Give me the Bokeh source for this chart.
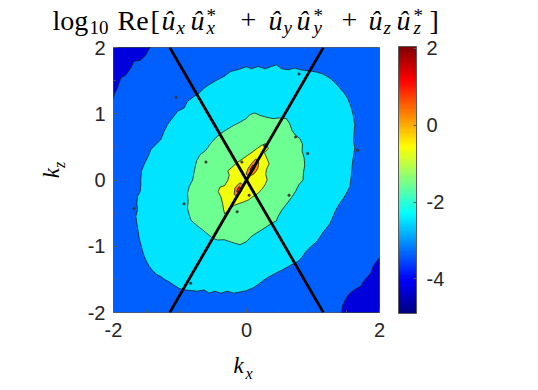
import numpy as np
from bokeh.plotting import figure
from bokeh.layouts import column, row
from bokeh.models import (Range1d, LinearColorMapper, ColorBar, FixedTicker, Label,
                          ColumnDataSource)
from bokeh.embed import file_html
from bokeh.resources import INLINE

# ---------------- data ----------------
# value (log10) of each filled contour band
band_levels = [-4.26, -3.36, -2.46, -1.56, -0.66, 0.24, 1.14]

# dark-blue corner regions (level -4.26)
dark_tl_x = [-2.0, -1.44, -1.46, -1.51, -1.59, -1.69, -1.74, -1.81, -1.89, -1.94, -1.99, -2.0]
dark_tl_y = [2.0, 2.0, 1.99, 1.89, 1.81, 1.79, 1.69, 1.59, 1.54, 1.39, 1.29, 1.24]
dark_br_x = [2.0, 2.0, 1.954, 1.904, 1.869, 1.803, 1.753, 1.718, 1.653, 1.578, 1.528, 1.478, 1.443, 1.428]
dark_br_y = [-2.0, -1.177, -1.227, -1.302, -1.403, -1.478, -1.538, -1.603, -1.638, -1.688, -1.738, -1.819, -1.904, -2.0]

# cyan region (level -2.46)
cyan_x = [0.0, -0.135, -0.235, -0.336, -0.436, -0.561, -0.636, -0.712, -0.787, -0.887, -0.937, -1.037,
          -1.113, -1.188, -1.238, -1.288, -1.363, -1.438, -1.489, -1.539, -1.579, -1.59,
          -1.589, -1.599, -1.639, -1.649, -1.639, -1.664, -1.649, -1.629, -1.614, -1.589, -1.564,
          -1.539, -1.504, -1.464, -1.413, -1.348, -1.288, -1.228, -1.163, -1.088, -1.012, -0.937,
          -0.837, -0.737, -0.637, -0.561, -0.476, -0.386, -0.286, -0.195, -0.11,
          0.0, 0.099, 0.175, 0.25, 0.325, 0.4, 0.475, 0.55, 0.626, 0.701, 0.776, 0.836, 0.876,
          0.936, 1.002, 1.052, 1.102, 1.152, 1.202, 1.252, 1.287, 1.317, 1.352, 1.403, 1.453,
          1.503, 1.553,
          1.568, 1.578, 1.588, 1.608, 1.628, 1.608, 1.618, 1.628, 1.603, 1.568, 1.518, 1.468,
          1.403, 1.337, 1.252, 1.152, 1.052, 0.951, 0.826, 0.726, 0.626, 0.525, 0.45, 0.375,
          0.275, 0.175, 0.074]
cyan_y = [1.71, 1.664, 1.64, 1.564, 1.514, 1.44, 1.388, 1.313, 1.263, 1.188, 1.088, 1.037,
          0.937, 0.837, 0.737, 0.611, 0.536, 0.461, 0.336, 0.236, 0.135, 0.0,
          -0.074, -0.175, -0.25, -0.35, -0.45, -0.55, -0.651, -0.776, -0.876, -0.976, -1.067,
          -1.152, -1.227, -1.302, -1.367, -1.428, -1.458, -1.503, -1.538, -1.588, -1.638, -1.658,
          -1.668, -1.678, -1.658, -1.708, -1.678, -1.708, -1.678, -1.708, -1.693,
          -1.67, -1.628, -1.578, -1.518, -1.468, -1.428, -1.388, -1.352, -1.307, -1.267, -1.227,
          -1.167, -1.102, -1.037, -0.976, -0.936, -0.866, -0.786, -0.726, -0.661, -0.586, -0.515,
          -0.435, -0.35, -0.285, -0.2, -0.099,
          0.0, 0.085, 0.21, 0.361, 0.486, 0.586, 0.712, 0.837, 0.987, 1.113, 1.238, 1.313,
          1.388, 1.464, 1.539, 1.599, 1.629, 1.649, 1.659, 1.689, 1.664, 1.679, 1.739, 1.714,
          1.679, 1.714, 1.679]

# green region (level -1.56)
green_x = [0.0, -0.1, -0.2, -0.3, -0.39, -0.47, -0.54, -0.61, -0.70, -0.75, -0.78, -0.81,
           -0.862, -0.887, -0.877, -0.887, -0.862, -0.837, -0.787, -0.727, -0.662, -0.586,
           -0.511, -0.436, -0.336, -0.261, -0.175, -0.095,
           0.0, 0.074, 0.15, 0.225, 0.3, 0.375, 0.45, 0.475, 0.535, 0.6, 0.676, 0.736, 0.786,
           0.85, 0.856, 0.876, 0.866, 0.836, 0.841, 0.801, 0.736, 0.686, 0.651, 0.6, 0.5, 0.4,
           0.3, 0.2, 0.124, 0.049]
green_y = [0.93, 0.87, 0.82, 0.76, 0.70, 0.63, 0.55, 0.45, 0.38, 0.29, 0.16, 0.0,
           -0.099, -0.2, -0.325, -0.425, -0.525, -0.6, -0.651, -0.701, -0.751, -0.816,
           -0.876, -0.906, -0.901, -0.926, -0.956, -0.976,
           -0.93, -0.851, -0.801, -0.756, -0.706, -0.656, -0.616, -0.55, -0.45, -0.365, -0.265,
           -0.175, -0.074,
           0.0, 0.11, 0.226, 0.336, 0.436, 0.546, 0.626, 0.677, 0.747, 0.847, 0.927, 0.937, 0.927,
           0.947, 0.977, 1.012, 0.987]

# yellow region (level -0.66)
yellow_x = [0.29, 0.33, 0.27, 0.31, 0.34, 0.30, 0.29, 0.31, 0.28, 0.23, 0.175, 0.095,
            0.03, -0.04, -0.11, -0.18, -0.235, -0.28, -0.33, -0.345, -0.36, -0.385, -0.425,
            -0.40, -0.33, -0.28, -0.26, -0.28, -0.225, -0.145, -0.065, 0.015, 0.085, 0.15, 0.23]
yellow_y = [0.55, 0.48, 0.41, 0.32, 0.245, 0.16, 0.085, 0.005, -0.07, -0.14, -0.2, -0.25,
            -0.3, -0.33, -0.355, -0.38, -0.42, -0.47, -0.51, -0.44, -0.35, -0.255, -0.175,
            -0.11, -0.085, -0.005, 0.075, 0.14, 0.185, 0.26, 0.315, 0.37, 0.42, 0.47, 0.525]

# orange regions (level 0.24)
orange1_x = [0.14, 0.185, 0.17, 0.115, 0.045, -0.005, 0.02, 0.08]
orange1_y = [0.32, 0.26, 0.17, 0.095, 0.055, 0.085, 0.17, 0.255]
orange2_x = [-0.10, -0.045, -0.075, -0.135, -0.185, -0.175]
orange2_y = [-0.04, -0.075, -0.165, -0.25, -0.22, -0.12]

# red regions (level 1.14)
red1_x = [0.095, 0.13, 0.09, 0.05]
red1_y = [0.225, 0.19, 0.125, 0.155]
red2_x = [-0.115, -0.085, -0.115, -0.15]
red2_y = [-0.1, -0.125, -0.19, -0.17]

# tiny isolated contour islands (specks)
speck_x = [0.79, -0.84, -1.69, -0.94, 0.92, 1.67, 0.74, -0.61, 0.27, -0.07, 0.04, 0.64, -0.14, -1.06]
speck_y = [1.60, -1.56, -0.43, -0.36, 0.40, 0.45, 0.65, 0.27, 0.52, 0.27, -0.23, -0.23, -0.48, 1.25]

# the two black lines through the origin (angle from the kx axis, degrees)
line_angles_deg = [60.0, 120.0]

x_ticks = [-2, 0, 2]
y_ticks = [-2, -1, 0, 1, 2]
cbar_ticks = [-4, -2, 0, 2]
cbar_low, cbar_high = -4.9, 2.05

# ---------------- styling ----------------
def jet(n):
    out = []
    for i in range(n):
        t = i / (n - 1)
        r = min(max(1.5 - abs(4 * t - 3), 0), 1)
        g = min(max(1.5 - abs(4 * t - 2), 0), 1)
        b = min(max(1.5 - abs(4 * t - 1), 0), 1)
        out.append("#%02x%02x%02x" % (int(round(r * 255)), int(round(g * 255)), int(round(b * 255))))
    return out

mapper = LinearColorMapper(palette=jet(256), low=cbar_low, high=cbar_high)

LEFT_W = 70     # width of the strip holding the k_z label
TITLE_H = 38    # height of the strip holding the title
P_TOP, P_BOT, P_LEFT, P_RIGHT = 9, 36, 43, 75
FW, FH = 266, 265
P_H = P_TOP + FH + P_BOT
P_W = P_LEFT + FW + P_RIGHT
TOT_W = LEFT_W + P_W
XL_H = 37

p = figure(frame_width=FW, frame_height=FH, min_border_left=P_LEFT, min_border_top=P_TOP,
           min_border_right=P_RIGHT, min_border_bottom=P_BOT,
           x_range=Range1d(-2, 2), y_range=Range1d(-2, 2),
           output_backend="svg", toolbar_location=None, title=None)
p.xgrid.visible = False
p.ygrid.visible = False
p.outline_line_color = "#5a5a5a"
p.outline_line_width = 1
p.background_fill_color = "white"
p.border_fill_color = "white"

# bands
base = ColumnDataSource(dict(xs=[[-2, 2, 2, -2]], ys=[[-2, -2, 2, 2]], v=[band_levels[1]]))
p.patches("xs", "ys", source=base, fill_color={"field": "v", "transform": mapper}, line_alpha=0)

polys = [
    (dark_tl_x, dark_tl_y, band_levels[0]),
    (dark_br_x, dark_br_y, band_levels[0]),
    (cyan_x, cyan_y, band_levels[2]),
    (green_x, green_y, band_levels[3]),
    (yellow_x, yellow_y, band_levels[4]),
    (orange1_x, orange1_y, band_levels[5]),
    (orange2_x, orange2_y, band_levels[5]),
    (red1_x, red1_y, band_levels[6]),
    (red2_x, red2_y, band_levels[6]),
]
src = ColumnDataSource(dict(xs=[a for a, _, _ in polys], ys=[b for _, b, _ in polys],
                            v=[c for _, _, c in polys]))
p.patches("xs", "ys", source=src, fill_color={"field": "v", "transform": mapper},
          line_color="#202020", line_width=0.8)
p.scatter(speck_x, speck_y, size=2.5, fill_color="#404040", line_color="#303030", line_width=0.5)

# the two straight lines
for ang in line_angles_deg:
    s = np.tan(np.radians(ang))
    p.line([-2 / s, 2 / s], [-2, 2], line_color="black", line_width=2.8)

def hyphen(ticks):
    return {t: str(t) for t in ticks}

# axes
for ax in (p.xaxis[0], p.yaxis[0]):
    ax.axis_line_color = None
    ax.major_tick_in = 4
    ax.major_tick_out = 0
    ax.minor_tick_in = 2
    ax.minor_tick_out = 0
    ax.major_tick_line_color = "#5a5a5a"
    ax.minor_tick_line_color = "#5a5a5a"
    ax.major_label_text_font = "Liberation Sans"
    ax.major_label_text_font_size = "20px"
    ax.major_label_text_color = "#262626"
p.xaxis[0].ticker = FixedTicker(ticks=x_ticks, minor_ticks=[-1.5, -1, -0.5, 0.5, 1, 1.5])
p.yaxis[0].ticker = FixedTicker(ticks=y_ticks, minor_ticks=[-1.5, -0.5, 0.5, 1.5])
p.xaxis[0].major_label_overrides = hyphen(x_ticks)
p.yaxis[0].major_label_overrides = hyphen(y_ticks)
p.xaxis[0].major_label_standoff = 10
p.yaxis[0].major_label_standoff = 8

# colour bar
cb = ColorBar(color_mapper=mapper, ticker=FixedTicker(ticks=cbar_ticks), width=18, height=267,
              margin=0, padding=0, label_standoff=10,
              major_label_overrides=hyphen(cbar_ticks),
              major_label_text_font="Liberation Sans", major_label_text_font_size="20px",
              major_label_text_color="#262626", major_tick_in=3, major_tick_line_color="#5a5a5a",
              bar_line_color="#5a5a5a", bar_line_width=1, location=(19, -1))
p.add_layout(cb, "right")

# ---------- text strips (pixel-coordinate figures, y downwards) ----------
def strip(w, h, x0, y0):
    f = figure(width=w, height=h, x_range=Range1d(x0, x0 + w), y_range=Range1d(y0 + h, y0),
               x_axis_type=None, y_axis_type=None, min_border=0, output_backend="svg",
               toolbar_location=None, title=None)
    f.outline_line_color = None
    f.background_fill_color = "white"
    f.border_fill_color = "white"
    return f

def lab(f, t, x, y, size, style="normal", angle=0.0, align="left"):
    # Bokeh places an "alphabetic" label ~0.29 em lower than the given point; compensate
    px = float(size.replace("px", ""))
    shift = 0.29 * px
    if angle:
        x = x - shift
    else:
        y = y - shift
    f.add_layout(Label(x=x, y=y, text=t, text_font="Liberation Serif", text_font_size=size,
                       text_font_style=style, text_color="black", angle=angle,
                       text_align=align, text_baseline="alphabetic"))

tf = strip(TOT_W, TITLE_H, 0, 0)
title_parts = [
    ("log", 52, 28, "28px", "normal", "left"),
    ("10", 89, 33, "19px", "normal", "left"),
    ("Re", 117, 28, "28px", "normal", "left"),
    ("[", 150, 28, "28px", "normal", "left"),
    ("û", 161, 28, "28px", "italic", "left"),
    ("x", 176, 33, "19px", "italic", "left"),
    ("û", 190, 28, "28px", "italic", "left"),
    ("*", 206, 21, "19px", "normal", "left"),
    ("x", 206, 33, "19px", "italic", "left"),
    ("+", 248, 28, "28px", "normal", "center"),
    ("û", 268, 28, "28px", "italic", "left"),
    ("y", 283, 33, "19px", "italic", "left"),
    ("û", 296, 28, "28px", "italic", "left"),
    ("*", 313, 21, "19px", "normal", "left"),
    ("y", 313, 33, "19px", "italic", "left"),
    ("+", 349, 28, "28px", "normal", "center"),
    ("û", 368, 28, "28px", "italic", "left"),
    ("z", 383, 33, "19px", "italic", "left"),
    ("û", 396, 28, "28px", "italic", "left"),
    ("*", 413, 21, "19px", "normal", "left"),
    ("z", 413, 33, "19px", "italic", "left"),
    ("]", 429, 28, "28px", "normal", "left"),
]
for t, x, y, s, st, al in title_parts:
    lab(tf, t, x, y, s, st, align=al)

kz = strip(LEFT_W, P_H, 0, TITLE_H)
lab(kz, "k", 58, 191, "23px", "italic", angle=np.pi / 2)
lab(kz, "z", 64, 179, "16px", "italic", angle=np.pi / 2)

kx = strip(TOT_W, XL_H, 0, TITLE_H + P_H)
lab(kx, "k", 233, 372, "23px", "italic")
lab(kx, "x", 245, 378, "16px", "italic")

layout = column(tf, row(kz, p, spacing=0), kx, spacing=0)
open("out.html", "w").write(file_html(layout, INLINE))
